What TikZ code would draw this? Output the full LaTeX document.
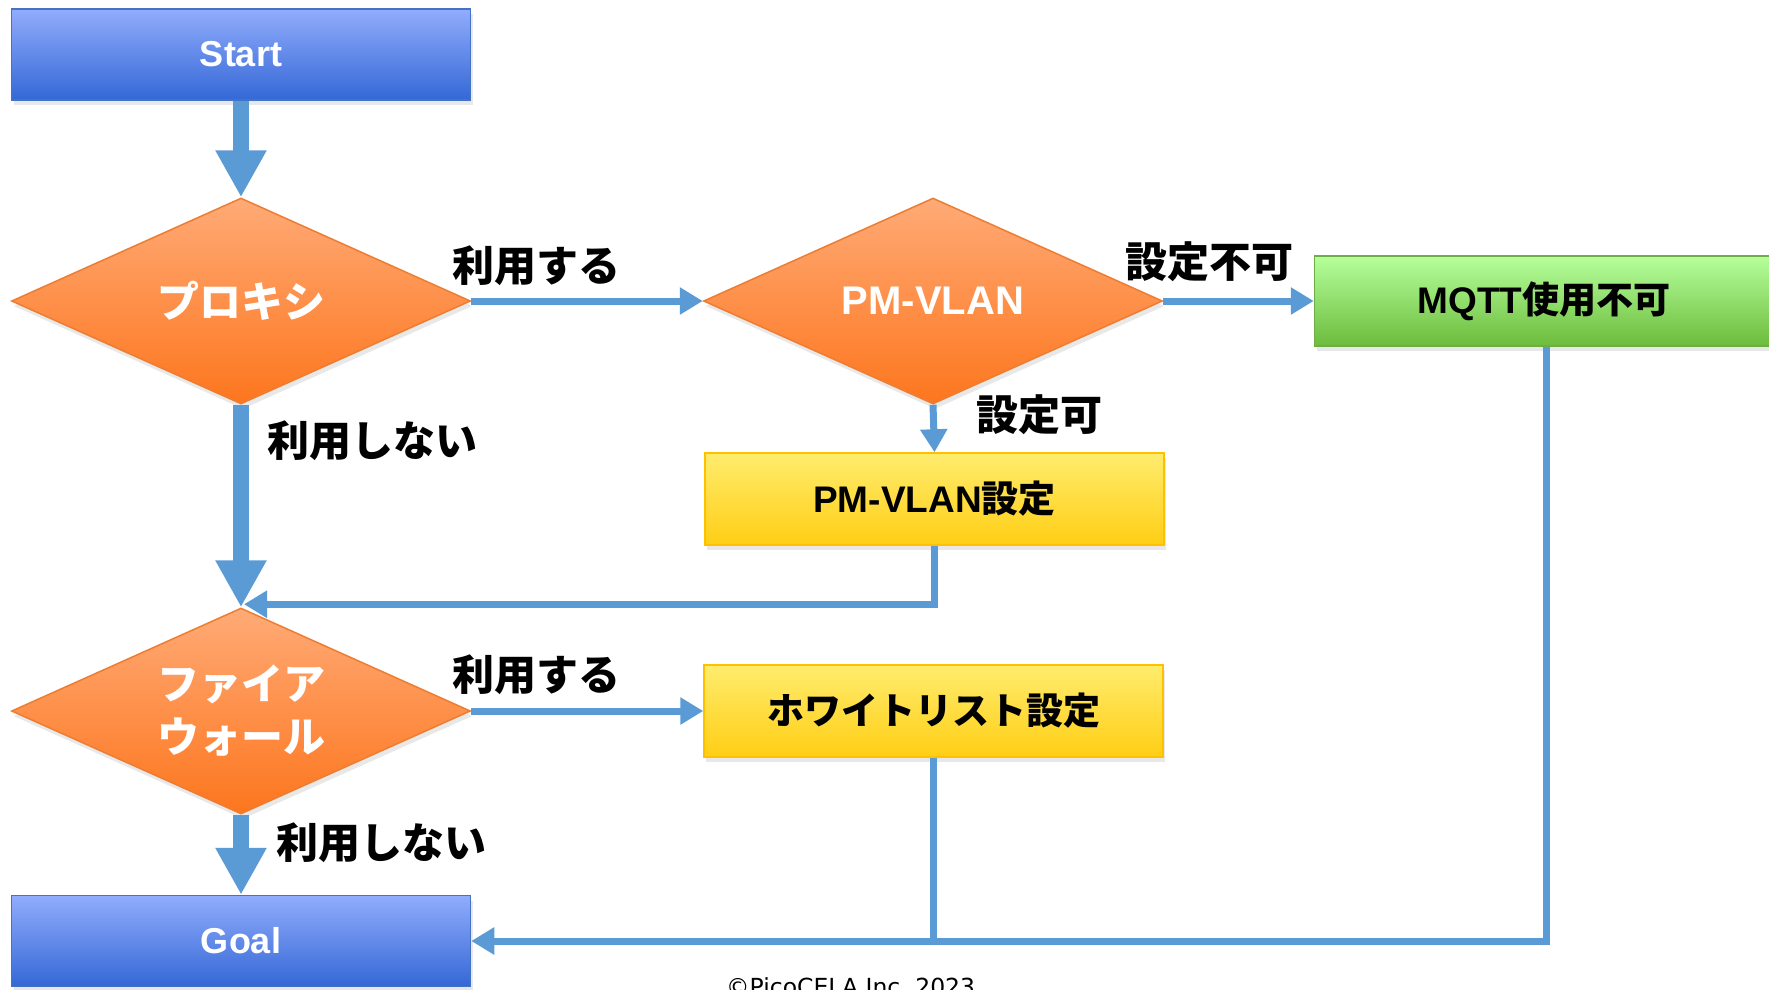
\documentclass[tikz,border=0pt]{standalone}
\usepackage{fontspec}
\setmainfont{Noto Sans CJK JP}
\newfontfamily\lat{Liberation Sans}
\newfontfamily\dejavu{DejaVu Sans}
\usetikzlibrary{shapes.geometric,arrows.meta,shadows}
\definecolor{conn}{RGB}{91,155,213}
\definecolor{termtop}{RGB}{145,172,252}
\definecolor{termbot}{RGB}{52,104,214}
\definecolor{termborder}{RGB}{68,114,196}
\definecolor{dectop}{RGB}{255,170,118}
\definecolor{decbot}{RGB}{253,118,30}
\definecolor{decborder}{RGB}{237,125,49}
\definecolor{yeltop}{RGB}{255,236,110}
\definecolor{yelbot}{RGB}{255,206,20}
\definecolor{yelborder}{RGB}{255,192,0}
\definecolor{grntop}{RGB}{182,255,156}
\definecolor{grnbot}{RGB}{108,188,60}
\definecolor{grnborder}{RGB}{112,173,71}
\tikzset{
  shade/.style={drop shadow={shadow xshift=2pt,shadow yshift=-5pt,opacity=0.18}},
  term/.style={rectangle,draw=termborder,line width=1.5pt,top color=termtop,bottom color=termbot,
    minimum width=459pt,minimum height=91pt,inner sep=0pt,text=white,
    font=\lat\bfseries\fontsize{36}{40}\selectfont,shade},
  decision/.style={diamond,draw=decborder,line width=1.5pt,top color=dectop,bottom color=decbot,
    minimum width=459pt,minimum height=206pt,aspect=2.23,inner sep=0pt,text=white,align=center,
    font=\bfseries\fontsize{42}{53}\selectfont,shade},
  yelbox/.style={rectangle,draw=yelborder,line width=1.5pt,top color=yeltop,bottom color=yelbot,
    minimum width=459pt,minimum height=92pt,inner sep=0pt,text=black,
    font=\bfseries\fontsize{37}{42}\selectfont,shade},
  grnbox/.style={rectangle,draw=grnborder,line width=1.5pt,top color=grntop,bottom color=grnbot,
    minimum width=459pt,minimum height=90pt,inner sep=0pt,text=black,
    font=\bfseries\fontsize{37}{42}\selectfont,shade},
  flow/.style={draw=conn,line width=7pt,-{Triangle[length=23pt,width=26pt]}},
  plainflow/.style={draw=conn,line width=7pt},
  bigflow/.style={draw=conn,line width=16pt,-{Triangle[length=47pt,width=48pt]}},
  lbl/.style={text=black,inner sep=0pt,font=\bfseries\fontsize{42}{48}\selectfont},
}
\begin{document}
\begin{tikzpicture}[x=1pt,y=-1pt]
\useasboundingbox (0,0) rectangle (1769,989);
\clip (0,0) rectangle (1769,989);
\fill[white] (0,0) rectangle (1769,989);

\node[term] (start) at (241,54.5) {Start};
\node[decision] (proxy) at (241,301) {プロキシ};
\node[decision] (pmvlan) at (933,301) {{\lat\bfseries\fontsize{40}{44}\selectfont PM-VLAN}};
\node[grnbox] (mqtt) at (1544,301) {{\lat MQTT}使用不可};
\node[yelbox] (pmset) at (934.5,499) {{\lat PM-VLAN}設定};
\node[decision] (fw) at (241,711) {ファイア\\ウォール};
\node[yelbox] (white) at (933.5,711) {ホワイトリスト設定};
\node[term] (goal) at (241,941) {Goal};

\draw[bigflow] (start.south) -- (proxy.north);
\draw[flow] (proxy.east) -- (pmvlan.west);
\draw[flow] (pmvlan.east) -- (mqtt.west);
\draw[flow] (pmvlan.south) -- (pmset.north);
\draw[bigflow] (proxy.south) -- (fw.north);
\draw[flow] (pmset.south) |- ([yshift=3pt,xshift=3pt]fw.north);
\draw[flow] (fw.east) -- (white.west);
\draw[bigflow] (fw.south) -- (goal.north);
\draw[flow] ([xshift=2pt]mqtt.south) |- (goal.east);
\draw[plainflow] (white.south) -- (white.south |- goal.east);

\node[lbl] (l1) at (536,266) {利用する};
\node[lbl] (l2) at (1209,262) {設定不可};
\node[lbl] (l3) at (1039,415) {設定可};
\node[lbl] (l4) at (372,441) {利用しない};
\node[lbl] (l5) at (536,675) {利用する};
\node[lbl] (l6) at (381,843) {利用しない};
\node[anchor=base west,inner sep=0pt,text=black,font=\dejavu\fontsize{23.5}{28}\selectfont] (copy) at (726,995) {©PicoCELA Inc.\ 2023};
\end{tikzpicture}
\end{document}
